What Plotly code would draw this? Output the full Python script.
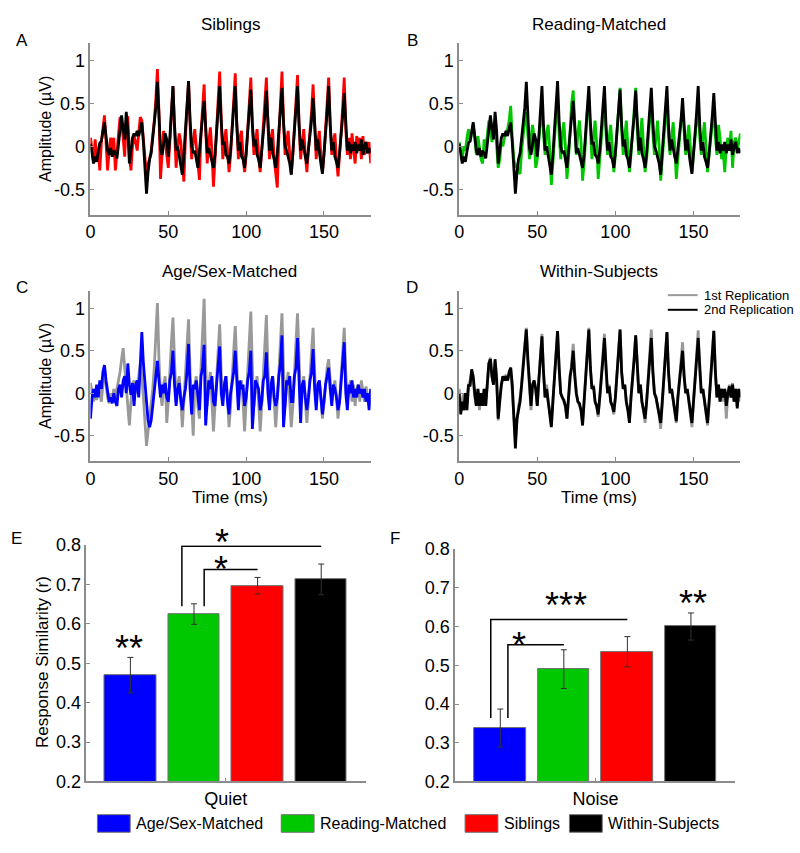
import plotly.graph_objects as go

W, H = 800, 853
FONT = "Arial, Liberation Sans, sans-serif"
AXIS_GREY = "#8c8c8c"

# ---- waveform data (1 ms steps, 0..180 ms) ----
time_ms = list(range(0, 181))

# child response (black) shown in panels A and B
child_black = [
    0.03, -0.10, -0.20, -0.12, -0.18, -0.06, 0.04, 0.06, 0.15, 0.28,
    0.12, -0.05, -0.10, -0.02, -0.12, -0.05, -0.08, -0.14, 0.02, 0.22,
    0.36, 0.20, 0.08, 0.40, 0.18, -0.20, -0.05, 0.10, 0.15, 0.12,
    0.18, 0.12, 0.20, 0.28, 0.05, -0.25, -0.55, -0.30, -0.15, -0.08,
    0.08, 0.25, 0.45, 0.75, 0.35, -0.02, -0.10, 0.05, 0.15, 0.08,
    -0.12, 0.10, 0.40, 0.70, 0.25, -0.05, 0.00, -0.10, -0.20, -0.33,
    -0.10, 0.15, 0.40, 0.76, 0.30, 0.00, -0.08, -0.05, -0.15, -0.25,
    -0.05, 0.20, 0.35, 0.53, 0.20, -0.08, -0.02, -0.10, -0.18, -0.25,
    -0.10, 0.15, 0.40, 0.70, 0.28, 0.02, 0.05, -0.10, -0.12, -0.20,
    -0.05, 0.20, 0.40, 0.70, 0.25, -0.05, 0.05, -0.12, -0.15, -0.25,
    -0.08, 0.15, 0.38, 0.66, 0.25, 0.00, 0.08, -0.10, -0.15, -0.25,
    -0.05, 0.15, 0.35, 0.65, 0.20, -0.05, 0.10, -0.08, -0.15, -0.25,
    -0.08, 0.15, 0.40, 0.68, 0.28, 0.00, -0.05, -0.12, -0.20, -0.33,
    -0.10, 0.18, 0.40, 0.70, 0.25, -0.05, 0.08, -0.05, -0.12, -0.20,
    -0.05, 0.15, 0.30, 0.56, 0.20, -0.05, 0.08, -0.10, -0.20, -0.32,
    -0.12, 0.15, 0.40, 0.70, 0.25, -0.05, 0.05, -0.12, -0.18, -0.25,
    -0.08, 0.12, 0.35, 0.62, 0.20, -0.05, 0.05, -0.08, 0.02, -0.05,
    0.05, -0.08, 0.02, -0.05, 0.08, -0.10, 0.00, 0.05, -0.08, -0.02,
    -0.08,
]

siblings_red = [
    0.10, -0.05, -0.18, 0.08, -0.12, -0.05, -0.28, 0.05, 0.20, 0.36,
    0.05, -0.28, -0.05, 0.10, -0.05, 0.10, -0.28, -0.05, 0.15, 0.34,
    0.30, 0.05, -0.12, 0.30, 0.35, -0.10, -0.28, 0.00, 0.12, 0.05,
    -0.05, 0.15, 0.34, 0.30, 0.05, -0.18, -0.35, -0.20, -0.15, -0.05,
    0.10, 0.30, 0.55, 0.90, 0.40, -0.38, -0.10, 0.18, 0.05, -0.10,
    -0.25, 0.05, 0.40, 0.70, 0.20, -0.25, 0.00, 0.15, 0.05, -0.20,
    -0.41, 0.10, 0.45, 0.76, 0.25, -0.15, 0.05, 0.20, 0.00, -0.20,
    -0.39, 0.15, 0.45, 0.72, 0.20, -0.20, 0.05, 0.22, -0.05, -0.47,
    -0.15, 0.20, 0.50, 0.87, 0.30, -0.15, 0.05, 0.20, -0.05, -0.30,
    -0.10, 0.20, 0.50, 0.85, 0.25, -0.15, 0.10, 0.18, -0.10, -0.30,
    -0.10, 0.20, 0.45, 0.80, 0.25, -0.10, 0.05, 0.20, -0.10, -0.30,
    -0.05, 0.20, 0.45, 0.80, 0.25, -0.15, 0.10, 0.20, -0.15, -0.30,
    -0.48, 0.10, 0.50, 0.87, 0.30, -0.10, 0.05, 0.18, -0.10, -0.32,
    -0.10, 0.20, 0.50, 0.83, 0.25, -0.15, 0.05, 0.20, -0.10, -0.30,
    -0.05, 0.15, 0.40, 0.72, 0.20, -0.15, 0.05, 0.18, -0.10, -0.30,
    -0.10, 0.20, 0.45, 0.80, 0.25, -0.10, 0.05, 0.15, -0.15, -0.35,
    -0.10, 0.15, 0.45, 0.80, 0.20, -0.10, 0.10, -0.15, 0.15, -0.05,
    -0.20, 0.12, -0.05, 0.10, -0.15, 0.12, -0.10, 0.05, -0.08, 0.05,
    -0.20,
]

reading_green = [
    0.05, -0.05, -0.15, 0.00, -0.05, 0.10, 0.20, 0.05, 0.18, 0.25,
    0.10, -0.10, 0.12, 0.00, -0.15, -0.20, 0.08, -0.05, 0.15, 0.30,
    0.20, 0.05, 0.25, 0.30, 0.00, -0.25, -0.15, 0.05, 0.00, 0.10,
    0.15, 0.20, 0.30, 0.47, 0.10, -0.15, -0.25, -0.20, -0.30, -0.32,
    -0.05, 0.15, 0.30, 0.40, 0.15, -0.15, 0.10, 0.25, 0.10, -0.25,
    -0.15, 0.10, 0.30, 0.40, 0.10, -0.10, 0.15, 0.25, -0.05, -0.45,
    -0.20, 0.10, 0.35, 0.45, 0.10, -0.15, 0.15, 0.28, 0.00, -0.38,
    -0.15, 0.20, 0.50, 0.65, 0.20, -0.10, 0.15, 0.30, 0.05, -0.40,
    -0.20, 0.10, 0.40, 0.55, 0.15, -0.15, 0.10, 0.30, 0.05, -0.38,
    -0.15, 0.10, 0.40, 0.55, 0.15, -0.10, 0.10, 0.25, 0.00, -0.30,
    -0.10, 0.20, 0.50, 0.68, 0.20, -0.10, 0.10, 0.30, 0.00, -0.30,
    -0.10, 0.20, 0.50, 0.68, 0.20, -0.10, 0.15, 0.33, 0.00, -0.30,
    -0.15, 0.10, 0.40, 0.55, 0.15, -0.10, 0.10, 0.30, 0.00, -0.40,
    -0.15, 0.10, 0.40, 0.55, 0.10, -0.10, 0.10, 0.28, 0.00, -0.38,
    -0.15, 0.10, 0.30, 0.45, 0.10, -0.10, 0.10, 0.25, 0.00, -0.30,
    -0.10, 0.10, 0.35, 0.50, 0.10, -0.10, 0.10, 0.28, 0.00, -0.30,
    -0.10, 0.10, 0.30, 0.45, 0.10, -0.10, 0.25, 0.10, -0.15, -0.05,
    -0.30, 0.00, 0.10, -0.05, 0.18, -0.25, 0.05, 0.10, -0.05, 0.05,
    0.15,
]

agesex_grey = [
    0.12, 0.00, -0.10, 0.05, -0.08, 0.05, 0.00, -0.10, 0.15, 0.30,
    0.10, -0.05, -0.12, 0.00, -0.08, 0.05, -0.05, 0.05, 0.15, 0.25,
    0.40, 0.53, 0.30, 0.05, -0.25, -0.38, -0.10, 0.10, 0.15, 0.00,
    0.10, 0.20, 0.35, 0.20, -0.05, -0.35, -0.62, -0.45, -0.30, -0.10,
    0.05, 0.30, 0.70, 1.06, 0.40, 0.00, -0.15, 0.10, 0.20, -0.35,
    -0.10, 0.30, 0.60, 0.89, 0.30, -0.10, 0.10, 0.20, -0.05, -0.40,
    -0.10, 0.25, 0.55, 0.87, 0.25, -0.20, -0.50, 0.10, 0.20, -0.15,
    -0.30, 0.30, 0.70, 1.11, 0.35, -0.15, 0.05, 0.25, -0.10, -0.45,
    -0.15, 0.20, 0.50, 0.81, 0.25, -0.10, 0.10, 0.20, -0.05, -0.40,
    -0.15, 0.25, 0.50, 0.79, 0.25, -0.10, 0.05, 0.15, -0.10, -0.45,
    -0.10, 0.30, 0.60, 0.96, 0.30, -0.15, 0.05, 0.20, -0.10, -0.45,
    -0.15, 0.25, 0.60, 0.92, 0.30, -0.10, 0.10, 0.20, -0.10, -0.40,
    -0.10, 0.30, 0.60, 0.94, 0.30, -0.15, 0.10, 0.25, -0.10, -0.40,
    -0.15, 0.30, 0.60, 0.94, 0.30, -0.10, 0.05, 0.20, -0.10, -0.35,
    -0.10, 0.20, 0.45, 0.77, 0.25, -0.10, 0.05, 0.15, -0.05, -0.30,
    -0.10, 0.15, 0.30, 0.40, 0.15, -0.10, 0.05, 0.15, -0.05, -0.30,
    -0.10, 0.20, 0.45, 0.77, 0.25, -0.10, 0.05, 0.15, -0.10, 0.10,
    -0.15, 0.05, 0.10, -0.10, 0.15, 0.00, -0.10, 0.08, -0.05, -0.15,
    0.05,
]

agesex_blue = [
    -0.30, -0.05, 0.05, -0.05, 0.10, -0.05, 0.15, 0.05, 0.25, 0.33,
    0.15, 0.00, -0.10, -0.05, -0.12, 0.00, -0.10, -0.15, 0.05, 0.10,
    -0.05, 0.15, 0.20, 0.00, 0.35, 0.10, -0.02, 0.12, -0.15, 0.10,
    0.15, -0.05, 0.30, 0.72, 0.35, 0.10, -0.15, -0.32, -0.40, -0.32,
    -0.15, 0.05, 0.20, 0.38, 0.15, -0.05, 0.10, 0.00, 0.12, -0.05,
    -0.10, 0.15, 0.25, 0.50, 0.10, -0.15, 0.05, 0.12, -0.08, -0.20,
    -0.05, 0.05, 0.25, 0.58, 0.05, -0.25, 0.10, 0.05, 0.15, -0.05,
    -0.20, 0.20, 0.30, 0.57, -0.38, -0.10, 0.15, 0.05, 0.20, -0.10,
    -0.15, 0.10, 0.30, 0.55, 0.00, -0.15, 0.10, 0.20, -0.10, -0.25,
    0.00, 0.15, 0.25, 0.50, 0.10, -0.20, 0.15, 0.05, 0.10, -0.15,
    -0.05, 0.15, 0.25, 0.50, -0.42, -0.10, 0.15, 0.10, 0.05, -0.20,
    -0.10, 0.15, 0.20, 0.48, 0.00, -0.20, 0.10, 0.20, -0.05, -0.15,
    -0.05, 0.20, 0.35, 0.68, -0.40, -0.15, 0.15, 0.10, 0.20, -0.10,
    -0.10, 0.20, 0.30, 0.65, 0.00, -0.35, 0.10, 0.15, -0.05, -0.20,
    -0.05, 0.15, 0.25, 0.52, 0.05, -0.20, 0.10, 0.15, -0.05, -0.25,
    -0.10, 0.10, 0.20, 0.30, 0.05, -0.15, 0.10, 0.05, -0.05, -0.20,
    -0.10, 0.15, 0.30, 0.60, 0.00, -0.20, 0.10, 0.00, 0.15, -0.05,
    0.05, -0.05, 0.10, 0.00, 0.05, -0.05, 0.05, -0.10, 0.00, -0.20,
    0.05,
]

rep1_grey = [
    0.05, -0.15, -0.10, 0.00, -0.20, -0.05, 0.10, 0.15, 0.25, 0.15,
    -0.05, -0.15, 0.05, -0.20, 0.00, -0.10, 0.05, -0.15, 0.15, 0.35,
    0.42, 0.20, 0.10, 0.38, 0.20, -0.32, -0.05, 0.10, 0.20, 0.15,
    0.22, 0.15, 0.20, 0.30, 0.05, -0.30, -0.55, -0.35, -0.15, -0.05,
    0.10, 0.35, 0.55, 0.77, 0.35, 0.00, -0.20, 0.10, 0.15, 0.05,
    -0.15, 0.15, 0.40, 0.70, 0.25, -0.05, 0.10, -0.10, -0.20, -0.38,
    -0.10, 0.15, 0.45, 0.73, 0.30, 0.00, -0.05, -0.10, -0.15, -0.30,
    -0.05, 0.20, 0.35, 0.58, 0.25, 0.00, -0.10, -0.15, -0.20, -0.35,
    -0.10, 0.20, 0.45, 0.77, 0.30, 0.05, 0.10, -0.10, -0.15, -0.28,
    -0.05, 0.20, 0.40, 0.70, 0.25, 0.00, 0.10, -0.10, -0.15, -0.25,
    -0.05, 0.20, 0.45, 0.75, 0.25, 0.05, 0.10, -0.10, -0.20, -0.30,
    -0.05, 0.15, 0.40, 0.68, 0.25, 0.00, 0.10, -0.10, -0.20, -0.35,
    -0.10, 0.15, 0.45, 0.75, 0.25, 0.00, -0.05, -0.15, -0.25, -0.42,
    -0.10, 0.20, 0.45, 0.72, 0.25, 0.00, 0.05, -0.10, -0.20, -0.35,
    -0.05, 0.20, 0.35, 0.60, 0.20, 0.00, 0.05, -0.10, -0.20, -0.40,
    -0.10, 0.20, 0.45, 0.74, 0.25, 0.00, 0.05, -0.10, -0.20, -0.38,
    -0.10, 0.15, 0.45, 0.74, 0.25, -0.05, 0.10, -0.10, 0.05, -0.10,
    0.05, -0.30, 0.00, 0.10, -0.05, 0.12, -0.10, 0.05, -0.15, 0.05,
    -0.10,
]

rep2_black = [
    0.00, -0.25, -0.10, -0.20, 0.00, -0.20, 0.10, 0.08, 0.28, 0.20,
    0.00, -0.15, 0.05, -0.15, 0.00, -0.15, 0.05, -0.15, 0.10, 0.35,
    0.40, 0.20, 0.10, 0.40, 0.15, -0.30, -0.10, 0.10, 0.20, 0.15,
    0.20, 0.15, 0.25, 0.30, 0.10, -0.30, -0.65, -0.30, -0.20, -0.10,
    0.10, 0.30, 0.55, 0.75, 0.40, 0.05, -0.15, 0.10, 0.15, 0.05,
    -0.15, 0.15, 0.40, 0.67, 0.25, -0.05, 0.05, -0.10, -0.20, -0.40,
    -0.10, 0.15, 0.45, 0.73, 0.30, 0.00, -0.05, -0.08, -0.15, -0.30,
    -0.05, 0.20, 0.30, 0.50, 0.20, 0.00, -0.10, -0.12, -0.20, -0.38,
    -0.10, 0.20, 0.45, 0.75, 0.30, 0.05, 0.08, -0.10, -0.15, -0.25,
    -0.05, 0.15, 0.40, 0.65, 0.25, 0.00, 0.08, -0.10, -0.15, -0.22,
    -0.05, 0.20, 0.45, 0.75, 0.25, 0.05, 0.10, -0.10, -0.20, -0.35,
    -0.05, 0.15, 0.40, 0.68, 0.25, 0.00, 0.10, -0.10, -0.20, -0.30,
    -0.10, 0.15, 0.40, 0.65, 0.25, 0.00, -0.05, -0.15, -0.25, -0.35,
    -0.10, 0.20, 0.45, 0.72, 0.25, 0.00, 0.05, -0.10, -0.20, -0.33,
    -0.05, 0.15, 0.30, 0.50, 0.20, 0.00, 0.05, -0.10, -0.20, -0.35,
    -0.10, 0.20, 0.40, 0.65, 0.25, 0.00, 0.05, -0.10, -0.20, -0.35,
    -0.10, 0.15, 0.45, 0.73, 0.25, -0.05, 0.10, -0.10, 0.05, -0.05,
    0.05, -0.15, 0.00, 0.08, -0.05, 0.10, -0.10, 0.05, -0.18, 0.05,
    -0.05,
]

wave_ticks = [0, 50, 100, 150]
amp_ticks = [-0.5, 0, 0.5, 1]
amp_labels = ["-0.5", "0", "0.5", "1"]

# ---- bar data ----
groups = ["Age/Sex-Matched", "Reading-Matched", "Siblings", "Within-Subjects"]
group_colors = ["#0000ff", "#00c800", "#ff0000", "#000000"]
bar_pos = [1, 2, 3, 4]
quiet_r = [0.470, 0.625, 0.697, 0.713]
quiet_err = [0.045, 0.026, 0.021, 0.039]
noise_r = [0.338, 0.490, 0.535, 0.600]
noise_err = [0.049, 0.050, 0.039, 0.035]
sim_ticks = [0.2, 0.3, 0.4, 0.5, 0.6, 0.7, 0.8]

# significance brackets: (from bar, to bar, x offset at start, start y, top y)
quiet_brackets = [(2, 4, -0.19, 0.645, 0.797), (2, 3, 0.16, 0.645, 0.738)]
noise_brackets = [(1, 3, -0.15, 0.364, 0.618), (1, 2, 0.12, 0.364, 0.553)]
# stars: (text, x, y, extra shift in px)
quiet_stars = [("**", 0.98, 0.562, 0), ("*", 2.42, 0.763, 0), ("*", 2.44, 0.79, 17)]
noise_stars = [("*", 1.29, 0.578, 0), ("***", 2.04, 0.679, 0), ("**", 4.04, 0.684, 0)]


def px(x):
    return x / W


def py(y):
    return 1 - y / H


fig = go.Figure()

panels = [
    # (axis n, x px range, y px range, traces [(values, colour)])
    (1, (86, 368), (34, 210), [(siblings_red, "#ff0000"), (child_black, "#000000")]),
    (2, (457, 740), (34, 210), [(reading_green, "#00c800"), (child_black, "#000000")]),
    (3, (86, 368), (288, 462), [(agesex_grey, "#999999"), (agesex_blue, "#0000ff")]),
    (4, (457, 740), (288, 462), [(rep1_grey, "#999999"), (rep2_black, "#000000")]),
]

axis_common = dict(
    showline=True, linecolor=AXIS_GREY, linewidth=1.5, ticks="inside",
    ticklen=4, tickcolor=AXIS_GREY, showgrid=False, zeroline=False,
    tickfont=dict(family=FONT, size=18, color="black"),
)

layout = {}
for n, (x0, x1), (y0, y1), traces in panels:
    sfx = "" if n == 1 else str(n)
    for vals, col in traces:
        fig.add_trace(go.Scatter(
            x=time_ms, y=vals, mode="lines", xaxis="x" + sfx, yaxis="y" + sfx,
            line=dict(color=col, width=2.8), showlegend=False, hoverinfo="skip",
        ))
    layout["xaxis" + sfx] = dict(
        domain=[px(x0), px(x1)], anchor="y" + sfx, range=[0, 180],
        tickvals=wave_ticks, **axis_common)
    layout["yaxis" + sfx] = dict(
        domain=[py(y1), py(y0)], anchor="x" + sfx, range=[-0.8, 1.2],
        tickvals=amp_ticks, ticktext=amp_labels, **axis_common)

bar_panels = [
    (5, (82, 363), (548, 790), quiet_r, quiet_err, [0.31, 4.7], "Quiet"),
    (6, (453, 735), (552, 790), noise_r, noise_err, [0.29, 4.7], "Noise"),
]
for n, (x0, x1), (y0, y1), vals, errs, xr, label in bar_panels:
    fig.add_trace(go.Bar(
        x=bar_pos, y=vals, width=0.81, xaxis=f"x{n}", yaxis=f"y{n}",
        marker=dict(color=group_colors, line=dict(color="#707070", width=1)),
        error_y=dict(type="data", array=errs, color="#303030", thickness=1, width=3),
        showlegend=False, hoverinfo="skip",
    ))
    layout[f"xaxis{n}"] = dict(
        domain=[px(x0), px(x1)], anchor=f"y{n}", range=xr,
        tickvals=[2.5], ticktext=[label], **axis_common)
    layout[f"yaxis{n}"] = dict(
        domain=[py(y1), py(y0)], anchor=f"x{n}", range=[0.2, 0.8],
        tickvals=sim_ticks, ticktext=[f"{v:.1f}" for v in sim_ticks], **axis_common)

shapes = []
annotations = []

for n, brackets, stars in [(5, quiet_brackets, quiet_stars), (6, noise_brackets, noise_stars)]:
    for b_from, b_to, off, ys, yt in brackets:
        xs = bar_pos[b_from - 1] + off
        xe = bar_pos[b_to - 1]
        shapes.append(dict(type="path", xref=f"x{n}", yref=f"y{n}",
                           path=f"M {xs} {ys} L {xs} {yt} L {xe} {yt}",
                           line=dict(color="black", width=1.5)))
    for txt, sx, sy, shift in stars:
        annotations.append(dict(text=txt, x=sx, y=sy, xref=f"x{n}", yref=f"y{n}",
                                showarrow=False, yshift=-10 + shift,
                                font=dict(family=FONT, size=36, color="black")))


def label(text, x, y, size=17, angle=0, xanchor="center"):
    annotations.append(dict(text=text, x=px(x), y=py(y), xref="paper", yref="paper",
                            showarrow=False, textangle=angle, xanchor=xanchor,
                            yanchor="middle",
                            font=dict(family=FONT, size=size, color="black")))


titles = [("Siblings", 227, 15), ("Reading-Matched", 598, 15),
          ("Age/Sex-Matched", 226, 268), ("Within-Subjects", 598, 268)]
for t, x, y in titles:
    label(t, x, y)

for t, x, y in [("A", 17, 31), ("B", 410, 31), ("C", 17, 284), ("D", 410, 284),
                ("E", 12, 541), ("F", 392, 541)]:
    label(t, x, y)

label("Amplitude (µV)", 40, 122, size=16, angle=-90)
label("Amplitude (µV)", 40, 375, size=16, angle=-90)
label("Response Similarity (r)", 38, 668, angle=-90)
label("Time (ms)", 226, 499)
label("Time (ms)", 598, 499)

# replication legend in panel D
for (name, col), y in zip([("1st Replication", "#999999"), ("2nd Replication", "#000000")], [292, 307]):
    shapes.append(dict(type="line", xref="paper", yref="paper",
                       x0=px(667), x1=px(697), y0=py(y), y1=py(y),
                       line=dict(color=col, width=2)))
    label(name, 701, y, size=13, xanchor="left")

# group legend at bottom
swatch_x = [93, 278, 463, 568]
for g, col, sx in zip(groups, group_colors, swatch_x):
    shapes.append(dict(type="rect", xref="paper", yref="paper",
                       x0=px(sx), x1=px(sx + 33), y0=py(842), y1=py(824),
                       fillcolor=col, line=dict(color="#707070", width=1)))
    label(g, sx + 37, 833, size=16, xanchor="left")

fig.update_layout(
    width=W, height=H, margin=dict(l=0, r=0, t=0, b=0),
    paper_bgcolor="white", plot_bgcolor="white",
    font=dict(family=FONT, size=16, color="black"),
    shapes=shapes, annotations=annotations, bargap=0, **layout,
)

fig.write_html(
    "out.html",
    config={"displayModeBar": False},
    post_script="document.body.style.margin='0';document.body.style.overflow='hidden';",
)
